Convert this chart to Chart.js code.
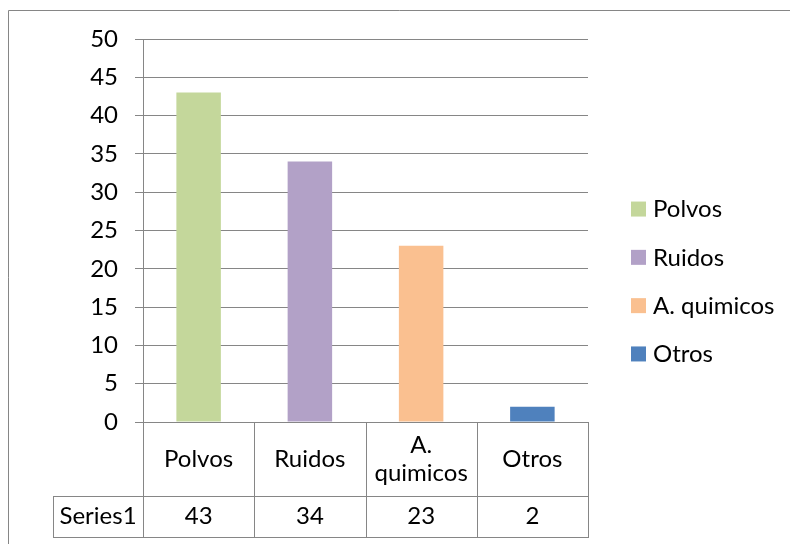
<!DOCTYPE html>
<html>
<head>
<meta charset="utf-8">
<script src="https://cdn.jsdelivr.net/npm/chart.js@4.4.1/dist/chart.umd.min.js"></script>
<style>
  html, body { margin: 0; padding: 0; background: #fff; }
  #wrap { width: 790px; height: 544px; }
</style>
</head>
<body>
<div id="wrap"><canvas id="riesgosChart" width="790" height="544"></canvas></div>
<script>
// data
const categories = ["Polvos", "Ruidos", "A. quimicos", "Otros"];
const seriesName = "Series1";
const values = [43, 34, 23, 2];
const barColors = ["#C4D79B", "#B2A1C7", "#FAC090", "#4F81BD"];
const yTicks = [0, 5, 10, 15, 20, 25, 30, 35, 40, 45, 50];

const FONT = "Lato, 'Liberation Sans', sans-serif";
const lineColor = "#868686";

// Excel style data table under the plot + frame + legend
const tablePlugin = {
    id: "dataTable",
    afterDraw(chart) {
        const ctx = chart.ctx;
        const area = chart.chartArea;
        const x = chart.scales.x;
        const n = categories.length;
        const colW = (x.right - x.left) / n;
        const row1Bottom = 496;
        const row2Bottom = 537;
        const headLeft = 53;

        ctx.save();
        ctx.strokeStyle = lineColor;
        ctx.lineWidth = 1;

        // outer chart frame (right/bottom fall off the picture)
        ctx.beginPath();
        ctx.moveTo(8.5, 600);
        ctx.lineTo(8.5, 10.5);
        ctx.lineTo(800, 10.5);
        ctx.stroke();

        ctx.beginPath();
        // axis line going down through the table
        ctx.moveTo(area.left + 0.5, area.bottom);
        ctx.lineTo(area.left + 0.5, row2Bottom + 0.5);
        // column separators
        for (let i = 1; i <= n; i++) {
            const cx = Math.round(x.getPixelForValue(i - 1) + colW / 2) + 0.5;
            ctx.moveTo(cx, area.bottom);
            ctx.lineTo(cx, row2Bottom + 0.5);
        }
        // horizontal lines
        ctx.moveTo(area.left, Math.round(area.bottom) + 0.5);
        ctx.lineTo(area.right + 1, Math.round(area.bottom) + 0.5);
        ctx.moveTo(headLeft, row1Bottom + 0.5);
        ctx.lineTo(area.right + 1, row1Bottom + 0.5);
        ctx.moveTo(headLeft, row2Bottom + 0.5);
        ctx.lineTo(area.right + 1, row2Bottom + 0.5);
        ctx.moveTo(headLeft + 0.5, row1Bottom);
        ctx.lineTo(headLeft + 0.5, row2Bottom + 1);
        ctx.stroke();

        // cell text
        ctx.fillStyle = "#000";
        ctx.font = "24px " + FONT;
        ctx.textAlign = "center";
        ctx.textBaseline = "middle";
        const row1Mid = (area.bottom + row1Bottom) / 2;
        const row2Mid = (row1Bottom + row2Bottom) / 2;
        categories.forEach((cat, i) => {
            const cx = x.getPixelForValue(i);
            if (ctx.measureText(cat).width > colW - 10) {
                const parts = cat.split(" ");
                ctx.fillText(parts[0], cx, row1Mid - 14);
                ctx.fillText(parts.slice(1).join(" "), cx, row1Mid + 14);
            } else {
                ctx.fillText(cat, cx, row1Mid);
            }
            ctx.fillText(String(values[i]), cx, row2Mid);
        });
        ctx.fillText(seriesName, (headLeft + area.left) / 2, row2Mid);

        // legend on the right
        const legX = 631;
        const legMid = 281;
        const legGap = 48.3;
        ctx.textAlign = "left";
        categories.forEach((cat, i) => {
            const ly = legMid + (i - (n - 1) / 2) * legGap;
            ctx.fillStyle = barColors[i];
            ctx.fillRect(legX, ly - 7, 15, 15);
            ctx.fillStyle = "#000";
            ctx.fillText(cat, legX + 22, ly + 1);
        });
        ctx.restore();
    }
};

const ctx = document.getElementById("riesgosChart").getContext("2d");
new Chart(ctx, {
    type: "bar",
    data: {
        labels: categories,
        datasets: [
            {
                label: seriesName,
                data: values,
                backgroundColor: barColors,
                borderWidth: 0,
                barPercentage: 0.4,
                categoryPercentage: 1.0,
            },
        ],
    },
    options: {
        responsive: false,
        animation: false,
        layout: {
            padding: { left: 0, right: 202, top: 39, bottom: 122 },
        },
        scales: {
            x: {
                display: false,
            },
            y: {
                min: 0,
                max: 50,
                afterFit: (scale) => { scale.width = 143; },
                afterBuildTicks: (scale) => {
                    scale.ticks = yTicks.map((v) => ({ value: v }));
                },
                ticks: {
                    color: "#000",
                    font: { family: FONT, size: 24 },
                    padding: 17,
                },
                grid: {
                    color: lineColor,
                    lineWidth: 1,
                    tickLength: 8,
                    drawTicks: true,
                },
                border: { color: lineColor, width: 1 },
            },
        },
        plugins: {
            legend: { display: false },
            tooltip: { enabled: false },
        },
    },
    plugins: [tablePlugin],
});
</script>
</body>
</html>
